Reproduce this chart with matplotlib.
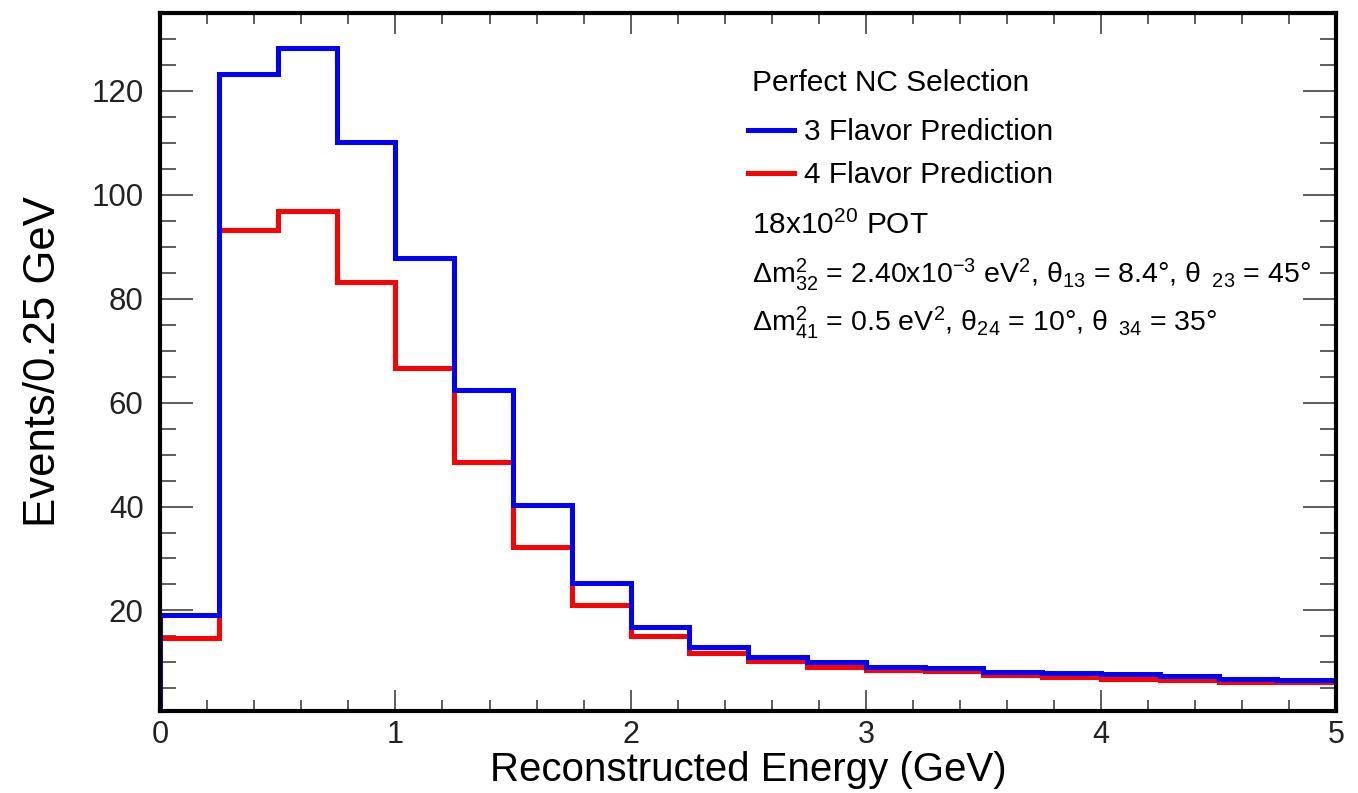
import numpy as np
import matplotlib
matplotlib.use("Agg")
from matplotlib import pyplot as plt
from matplotlib.ticker import MultipleLocator

# bin edges (GeV), 0.25 GeV bins
edges = np.arange(0, 5.0001, 0.25)

three_flavor = [19.2, 123.3, 128.3, 110.2, 87.8, 62.4, 40.3, 25.2, 16.9, 12.9,
                11.0, 10.1, 9.2, 8.9, 8.15, 7.95, 7.8, 7.3, 6.9, 6.6]
four_flavor = [14.7, 93.2, 96.9, 83.1, 66.7, 48.5, 32.3, 21.0, 15.0, 11.9,
               10.2, 9.2, 8.6, 8.3, 7.5, 7.2, 6.9, 6.6, 6.3, 6.2]

legend_labels = ["3 Flavor Prediction", "4 Flavor Prediction"]
fam = ["Liberation Sans", "DejaVu Sans"]

plt.rcParams["font.family"] = fam
plt.rcParams["mathtext.fontset"] = "custom"
plt.rcParams["mathtext.rm"] = "Liberation Sans"
plt.rcParams["mathtext.it"] = "Liberation Sans"
plt.rcParams["mathtext.bf"] = "Liberation Sans"


def main():
	fig = plt.figure(figsize=(13.58, 7.93), dpi=100)
	ax = fig.add_axes([0.118, 0.103, 0.866, 0.881])

	h4 = ax.stairs(four_flavor, edges, baseline=0, color="red", lw=3.6,
	               label=legend_labels[1], zorder=2)
	h3 = ax.stairs(three_flavor, edges, baseline=0, color="blue", lw=3.6,
	               label=legend_labels[0], zorder=3)

	ax.set_xlim(0, 5)
	ax.set_ylim(0.6, 135)

	ax.xaxis.set_major_locator(MultipleLocator(1))
	ax.xaxis.set_minor_locator(MultipleLocator(0.2))
	ax.yaxis.set_major_locator(MultipleLocator(20))
	ax.yaxis.set_minor_locator(MultipleLocator(5))

	ax.tick_params(axis="both", which="both", direction="in",
	               top=True, right=True, color="#333333", width=1.1)
	ax.tick_params(axis="x", which="major", length=15, pad=6)
	ax.tick_params(axis="x", which="minor", length=8)
	ax.tick_params(axis="y", which="major", length=24, pad=12)
	ax.tick_params(axis="y", which="minor", length=11.5)

	for lab in ax.get_xticklabels():
		lab.set_fontsize(22)
		lab.set_color("#222222")
	for lab in ax.get_yticklabels():
		lab.set_fontsize(22.5)
		lab.set_color("#222222")

	for sp in ax.spines.values():
		sp.set_linewidth(3.0)
		sp.set_zorder(5)

	ax.set_xlabel("Reconstructed Energy (GeV)", fontsize=29, labelpad=1)
	ax.set_ylabel("Events/0.25 GeV", fontsize=31.5, labelpad=20)

	# legend block
	ax.text(0.503, 0.9, "Perfect NC Selection", transform=ax.transAxes,
	        fontsize=21.5, va="center")
	ax.legend(handles=[h3, h4], loc="upper left",
	          bbox_to_anchor=(0.4995, 0.849), frameon=False,
	          prop={"size": 21.5}, handlelength=1.55, handletextpad=0.35,
	          labelspacing=0.5, borderaxespad=0, borderpad=0)

	ax.text(0.503, 0.696, r"18x10$^{20}$ POT", transform=ax.transAxes,
	        fontsize=21.5, va="center")
	ax.text(0.503, 0.625,
	        r"Δm$^{2}_{32}$ = 2.40x10$^{-3}$ eV$^{2}$, θ$_{13}$ = 8.4°, θ$_{\ \ 23}$ = 45°",
	        transform=ax.transAxes, fontsize=20.5, va="center")
	ax.text(0.503, 0.556,
	        r"Δm$^{2}_{41}$ = 0.5 eV$^{2}$, θ$_{24}$ = 10°, θ$_{\ \ 34}$ = 35°",
	        transform=ax.transAxes, fontsize=20.5, va="center")

	fig.savefig("out.png", dpi=100)


if __name__ == '__main__':
	main()
